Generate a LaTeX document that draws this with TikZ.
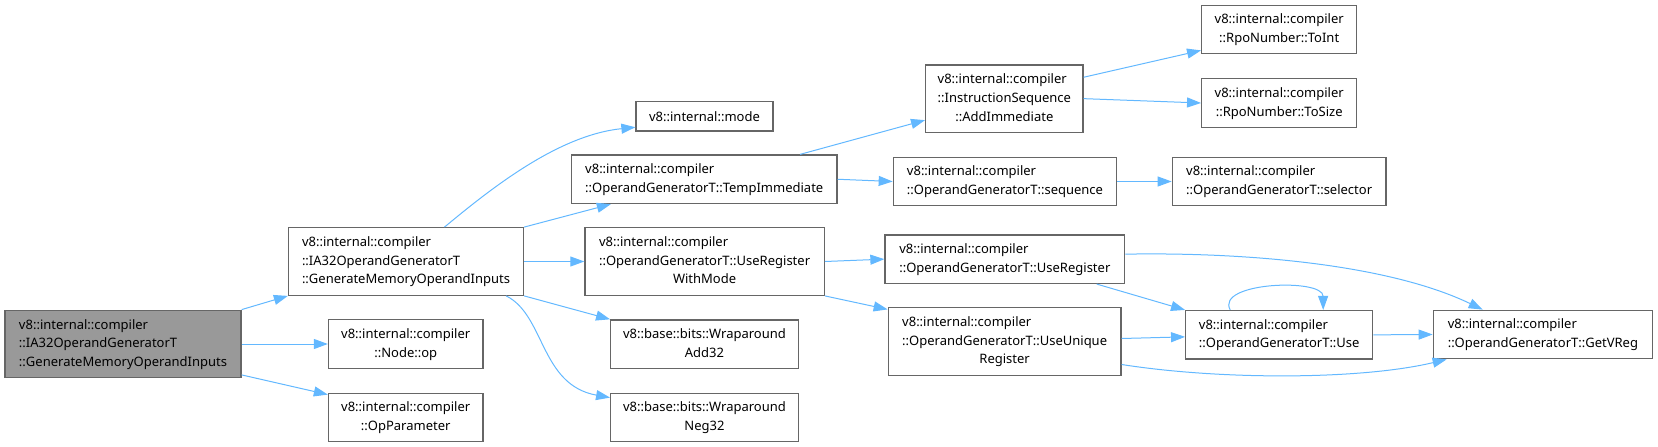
\documentclass[tikz,border=0pt]{standalone}
\usepackage{fontspec}
\setmainfont{Noto Sans}
\usetikzlibrary{arrows.meta}
\definecolor{cEdge}{HTML}{63B8FF}
\definecolor{cLine}{HTML}{666666}
\definecolor{cMain}{HTML}{999999}
\newcommand{\lbl}[2]{\begin{tabular}{@{}l@{}}#1\\\multicolumn{1}{@{}c@{}}{#2}\end{tabular}}
\tikzset{
  fn/.style={draw=cLine,line width=1.3pt,fill=white,inner sep=0pt,minimum height=48.5pt},
  fnthree/.style={fn,minimum height=67.5pt},
  call/.style={draw=cEdge,line width=1pt,-{Triangle[length=14pt,width=10pt]}},
}

\begin{document}
\begin{tikzpicture}[x=1pt,y=1pt,font=\fontsize{13}{18.7}\selectfont]
  \useasboundingbox (0,0) rectangle (1658,-447);
  % functions
  \node[fnthree,fill=cMain,minimum width=236pt] (main) at (123,-344) {\lbl{v8::internal::compiler\\::IA32OperandGeneratorT}{::GenerateMemoryOperandInputs}};
  \node[fnthree,minimum width=235pt] (gmo) at (406,-261.5) {\lbl{v8::internal::compiler\\::IA32OperandGeneratorT}{::GenerateMemoryOperandInputs}};
  \node[fn,minimum width=154.5pt] (nodeop) at (405.75,-344) {\lbl{v8::internal::compiler}{::Node::op}};
  \node[fn,minimum width=154.5pt] (opparam) at (405.75,-417.5) {\lbl{v8::internal::compiler}{::OpParameter}};
  \node[fn,minimum width=137pt,minimum height=29.5pt] (mode) at (704.5,-116.25) {v8::internal::mode};
  \node[fn,minimum width=265.5pt] (tempimm) at (704.25,-179.25) {\lbl{v8::internal::compiler}{::OperandGeneratorT::TempImmediate}};
  \node[fnthree,minimum width=239.3pt] (regmode) at (704.6,-261.5) {\lbl{v8::internal::compiler\\::OperandGeneratorT::UseRegister}{WithMode}};
  \node[fn,minimum width=187.6pt] (add32) at (704.5,-344.2) {\lbl{v8::base::bits::Wraparound}{Add32}};
  \node[fn,minimum width=187.6pt] (neg32) at (704.5,-417.5) {\lbl{v8::base::bits::Wraparound}{Neg32}};
  \node[fnthree,minimum width=157.3pt] (addimm) at (1004.35,-98.65) {\lbl{v8::internal::compiler\\::InstructionSequence}{::AddImmediate}};
  \node[fn,minimum width=223.4pt] (seq) at (1005,-181.5) {\lbl{v8::internal::compiler}{::OperandGeneratorT::sequence}};
  \node[fn,minimum width=239.7pt] (usereg) at (1004.85,-259.15) {\lbl{v8::internal::compiler}{::OperandGeneratorT::UseRegister}};
  \node[fnthree,minimum width=232.7pt] (useuniq) at (1004.65,-341.5) {\lbl{v8::internal::compiler\\::OperandGeneratorT::UseUnique}{Register}};
  \node[fn,minimum width=155pt] (toint) at (1279.2,-29.5) {\lbl{v8::internal::compiler}{::RpoNumber::ToInt}};
  \node[fn,minimum width=155pt] (tosize) at (1279.2,-103) {\lbl{v8::internal::compiler}{::RpoNumber::ToSize}};
  \node[fn,minimum width=213.7pt] (selector) at (1279.15,-181.5) {\lbl{v8::internal::compiler}{::OperandGeneratorT::selector}};
  \node[fn,minimum width=187pt] (use) at (1279.2,-334.85) {\lbl{v8::internal::compiler}{::OperandGeneratorT::Use}};
  \node[fn,minimum width=219.2pt] (getvreg) at (1542.9,-334.5) {\lbl{v8::internal::compiler}{::OperandGeneratorT::GetVReg}};
  % calls
  \draw[call] (main.north east) -- (gmo.south west);
  \draw[call] (main.east) -- (nodeop.west);
  \draw[call] ([yshift=3.5pt]main.south east) -- ([yshift=-2pt]opparam.north west);
  \draw[call] ([xshift=38.5pt]gmo.north) .. controls (495,-185) and (560,-135) .. ([yshift=-11pt]mode.west);
  \draw[call] (gmo.north east) -- ([xshift=40pt]tempimm.south west);
  \draw[call] (gmo.east) -- (regmode.west);
  \draw[call] (gmo.south east) -- (add32.north west);
  \draw[call] ([xshift=-18pt]gmo.south east) .. controls (545,-315) and (540,-385) .. ([yshift=-5pt]neg32.north west);
  \draw[call] ([xshift=-37.5pt]tempimm.north east) -- ([yshift=-21.5pt]addimm.west);
  \draw[call] (tempimm.east) -- (seq.west);
  \draw[call] ([yshift=-13pt]addimm.north east) -- ([yshift=4pt]toint.south west);
  \draw[call] (addimm.east) -- (tosize.west);
  \draw[call] (seq.east) -- (selector.west);
  \draw[call] (regmode.east) -- (usereg.west);
  \draw[call] (regmode.south east) -- ([yshift=-2.3pt]useuniq.north west);
  \draw[call] ([xshift=-28.7pt]usereg.south east) -- (use.north west);
  \draw[call] ([yshift=5pt]usereg.east) .. controls (1250,-252) and (1390,-265) .. ([xshift=50pt]getvreg.north west);
  \draw[call] ([yshift=3pt]useuniq.east) -- ([yshift=-2pt]use.west);
  \draw[call] ([yshift=-23pt]useuniq.east) .. controls (1220,-380) and (1360,-380) .. ([xshift=14pt]getvreg.south west);
  \draw[call] ([xshift=-49pt]use.north) .. controls (1215,-282) and (1323,-278) .. ([xshift=44pt]use.north);
  \draw[call] (use.east) -- (getvreg.west);
\end{tikzpicture}
\end{document}
